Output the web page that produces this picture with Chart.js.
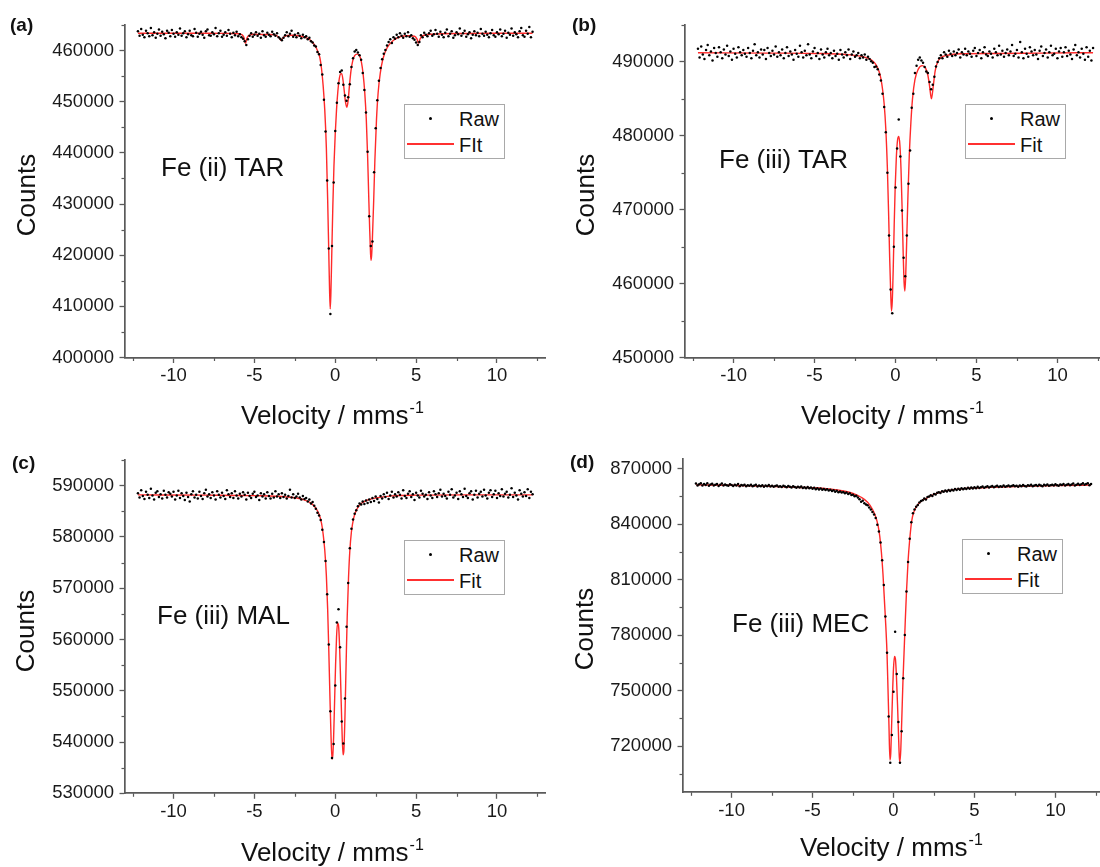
<!DOCTYPE html>
<html><head><meta charset="utf-8">
<script src="https://cdn.jsdelivr.net/npm/chart.js@4.4.1/dist/chart.umd.min.js"></script>
<style>
html,body{margin:0;padding:0;background:#fff;overflow:hidden;width:1100px;height:867px;}
body{position:relative;font-family:"Liberation Sans",Arial,sans-serif;color:#111;}
canvas{position:absolute;}
.t{position:absolute;white-space:nowrap;line-height:1;transform:translateY(-50%);}
.plabel{font-weight:bold;font-size:19px;}
.ann{font-size:26px;}
.xtitle{font-size:26px;}
.sup{position:relative;top:-11px;font-size:16px;margin-left:1px;}
.ytitle{position:absolute;white-space:nowrap;line-height:1;font-size:26px;transform:translate(-50%,-50%) rotate(-90deg);}
.legend{position:absolute;border:1.5px solid #a9a9a9;background:#fff;box-sizing:border-box;width:101px;height:55px;}
.ldot{position:absolute;width:3px;height:3px;border-radius:50%;background:#000;left:24px;top:12px;}
.lline{position:absolute;height:1.5px;background:#ff3030;left:2px;top:38px;width:47px;}
.ltxt{position:absolute;font-size:20px;line-height:1;left:54px;transform:translateY(-50%);}
</style>
</head><body>

<canvas id="ca" width="550" height="430" style="left:0px;top:0px"></canvas>
<canvas id="cb" width="560" height="430" style="left:550px;top:0px"></canvas>
<canvas id="cc" width="550" height="437" style="left:0px;top:430px"></canvas>
<canvas id="cd" width="560" height="437" style="left:550px;top:430px"></canvas>

<div class="t plabel" style="left:10px;top:24px">(a)</div>
<div class="t plabel" style="left:572px;top:24px">(b)</div>
<div class="t plabel" style="left:12px;top:462px">(c)</div>
<div class="t plabel" style="left:570px;top:461px">(d)</div>

<div class="t ann" style="left:161px;top:167px">Fe (ii) TAR</div>
<div class="t ann" style="left:719px;top:159px">Fe (iii) TAR</div>
<div class="t ann" style="left:157px;top:615px">Fe (iii) MAL</div>
<div class="t ann" style="left:732px;top:623px">Fe (iii) MEC</div>

<div class="ytitle" style="left:26px;top:195px">Counts</div>
<div class="ytitle" style="left:585px;top:195px">Counts</div>
<div class="ytitle" style="left:25px;top:631px">Counts</div>
<div class="ytitle" style="left:584px;top:629px">Counts</div>

<div class="t xtitle" style="left:241px;top:415px">Velocity / mms<span class="sup">-1</span></div>
<div class="t xtitle" style="left:801px;top:415px">Velocity / mms<span class="sup">-1</span></div>
<div class="t xtitle" style="left:241px;top:852px">Velocity / mms<span class="sup">-1</span></div>
<div class="t xtitle" style="left:800px;top:847px">Velocity / mms<span class="sup">-1</span></div>

<div class="legend" style="left:404px;top:104px"><div class="ldot"></div><div class="lline"></div><div class="ltxt" style="top:14px">Raw</div><div class="ltxt" style="top:40px">FIt</div></div>
<div class="legend" style="left:965px;top:104px"><div class="ldot"></div><div class="lline"></div><div class="ltxt" style="top:14px">Raw</div><div class="ltxt" style="top:40px">Fit</div></div>
<div class="legend" style="left:404px;top:540px"><div class="ldot"></div><div class="lline"></div><div class="ltxt" style="top:14px">Raw</div><div class="ltxt" style="top:40px">Fit</div></div>
<div class="legend" style="left:962px;top:539px"><div class="ldot"></div><div class="lline"></div><div class="ltxt" style="top:14px">Raw</div><div class="ltxt" style="top:40px">Fit</div></div>

<script>
// ---------- DATA ----------
const velocity = [
-12.2,-12.1,-12,-11.9,-11.8,-11.7,-11.6,-11.5,-11.4,-11.3,
-11.2,-11.1,-11,-10.9,-10.8,-10.7,-10.6,-10.5,-10.4,-10.3,
-10.2,-10.1,-10,-9.9,-9.8,-9.7,-9.6,-9.5,-9.4,-9.3,
-9.2,-9.1,-9,-8.9,-8.8,-8.7,-8.6,-8.5,-8.4,-8.3,
-8.2,-8.1,-8,-7.9,-7.8,-7.7,-7.6,-7.5,-7.4,-7.3,
-7.2,-7.1,-7,-6.9,-6.8,-6.7,-6.6,-6.5,-6.4,-6.3,
-6.2,-6.1,-6,-5.9,-5.8,-5.7,-5.6,-5.5,-5.4,-5.3,
-5.2,-5.1,-5,-4.9,-4.8,-4.7,-4.6,-4.5,-4.4,-4.3,
-4.2,-4.1,-4,-3.9,-3.8,-3.7,-3.6,-3.5,-3.4,-3.3,
-3.2,-3.1,-3,-2.9,-2.8,-2.7,-2.6,-2.5,-2.4,-2.3,
-2.2,-2.1,-2,-1.9,-1.8,-1.7,-1.6,-1.5,-1.4,-1.3,
-1.2,-1.1,-1,-0.9,-0.8,-0.7,-0.6,-0.5,-0.4,-0.3,
-0.2,-0.1,0,0.1,0.2,0.3,0.4,0.5,0.6,0.7,
0.8,0.9,1,1.1,1.2,1.3,1.4,1.5,1.6,1.7,
1.8,1.9,2,2.1,2.2,2.3,2.4,2.5,2.6,2.7,
2.8,2.9,3,3.1,3.2,3.3,3.4,3.5,3.6,3.7,
3.8,3.9,4,4.1,4.2,4.3,4.4,4.5,4.6,4.7,
4.8,4.9,5,5.1,5.2,5.3,5.4,5.5,5.6,5.7,
5.8,5.9,6,6.1,6.2,6.3,6.4,6.5,6.6,6.7,
6.8,6.9,7,7.1,7.2,7.3,7.4,7.5,7.6,7.7,
7.8,7.9,8,8.1,8.2,8.3,8.4,8.5,8.6,8.7,
8.8,8.9,9,9.1,9.2,9.3,9.4,9.5,9.6,9.7,
9.8,9.9,10,10.1,10.2,10.3,10.4,10.5,10.6,10.7,
10.8,10.9,11,11.1,11.2,11.3,11.4,11.5,11.6,11.7,
11.8,11.9,12,12.1,12.2];

const rawA = [
463800,462900,464200,463100,462600,463900,463400,462800,464400,463000,
463600,462500,463300,464100,462900,463700,463200,462400,463900,463500,
462800,464000,463300,462700,463600,463100,464300,462900,463400,463800,
462600,463200,463900,463000,462800,464200,463500,462700,463300,463700,
463100,462500,463800,464100,463000,462900,463600,463200,464400,462800,
463400,463900,462700,463100,463600,462900,464000,463300,462600,463500,
463000,463700,462800,463200,462600,462300,461800,461100,462200,462900,
463400,462700,463100,463600,462900,463300,462500,463800,463000,462700,
463500,463100,462800,463700,463200,462900,463400,462600,462300,462000,
462500,463000,463600,462800,463300,463900,462700,463100,462600,463400,
462900,462400,463100,462600,462800,462200,462500,461800,461600,461000,
460800,459700,459300,457200,455300,450400,444200,434600,421300,408500,
421800,434200,444300,449800,453600,455800,456100,453300,451200,450200,
450900,453400,456800,458500,459800,460100,459600,459100,458200,455600,
452300,447900,440200,427600,421800,422700,436200,444800,450300,454100,
456600,458300,459400,460100,461000,461700,462200,461500,462600,462300,
463100,462600,463400,462900,462500,463300,462800,463600,462700,463000,
462400,462100,461600,461100,461700,463000,462600,463500,463100,462800,
463400,463900,462900,463200,464000,463300,462700,463700,463100,462600,
463500,464100,462800,463300,463800,462500,463000,463600,463200,464300,
462900,463400,463900,462700,463200,463600,462400,463100,463800,463000,
463500,462800,464200,463300,462900,463700,463100,462600,463400,464000,
463000,462700,463600,463200,464100,462800,463300,463900,462500,463500,
463100,464300,462900,463600,463200,462600,463800,464400,463000,462700,
463900,463300,464600,462600,463700];

const rawB = [
491800,490600,492100,491000,490400,491600,492300,490900,491400,490200,
491900,491200,490700,492000,491300,490500,491700,491000,492200,490800,
491400,490300,491800,491100,490600,492000,491300,490900,491600,491100,
490700,491900,491200,490500,491500,492400,490900,491300,490600,491700,
491000,491600,490400,491900,491200,490800,491500,491000,492100,490700,
491300,490900,491700,490500,491200,492000,490800,491400,491000,490300,
491600,491100,490700,492200,491300,490600,491500,490900,492400,491000,
490500,491400,491900,490800,491200,490400,491700,491000,490600,491300,
491800,490900,491200,490500,491500,490800,491100,490300,491600,491000,
490600,491300,490900,491700,490400,491000,491400,490700,490900,491200,
490500,490900,490600,491000,490300,490700,490400,490100,489900,489300,
489400,489000,488300,487500,485700,483900,480500,475000,466500,459200,
456000,465000,473000,478300,482200,477200,469900,463500,461000,466500,
473500,478000,483800,485700,488500,489500,490300,490600,490200,489900,
489300,488700,488500,487300,486300,486900,488000,489400,490000,490500,
490900,490500,491300,491000,490700,491500,491100,490800,491400,490900,
491200,491700,490600,491300,491000,491800,490900,491400,491100,490700,
491500,491900,490800,491200,491600,490500,491300,492000,491000,490800,
491400,491100,490600,491800,491300,490900,492200,491000,491500,490700,
491200,491700,490900,491400,492300,490800,491100,491600,490600,492700,
491300,490500,491800,491100,490700,492000,491400,490900,491600,491000,
490400,491500,492100,490800,491200,491700,490600,491300,492200,490900,
491100,491800,490500,491400,491900,490700,491300,492000,490800,491500,
491000,490400,491700,492300,490900,491300,490600,491800,491100,490300,
492000,490700,491500,490200,491900];

const rawC = [
588500,587700,589100,588000,587400,588800,588200,587600,589400,588100,
587300,588600,588900,587800,588300,587500,589000,588200,587700,588700,
588400,587900,588800,587300,588100,589000,587600,588500,588000,587200,
588600,587800,586900,588300,588900,587700,588200,587500,588800,588000,
587400,588500,589200,587900,588300,587600,588700,588100,587300,588900,
588200,587700,588600,588000,587400,589100,588300,587800,588500,587600,
588900,588100,587500,588400,587900,588700,588200,587300,588600,588000,
587600,588400,588800,587800,588100,587200,588500,587900,588300,587500,
588700,588000,587500,588400,587700,588900,587900,588300,587600,588500,
587800,588200,587500,588000,589200,587700,588300,587600,587900,588400,
587700,587300,588000,587400,587600,586900,587300,586500,586800,586100,
585500,584700,584200,583300,581400,579000,575300,568800,559000,546000,
536900,539600,551000,563300,565900,558500,544000,539700,548500,562500,
571000,577800,581600,583400,584500,585200,586000,586500,586300,586900,
586400,587100,586600,587300,586800,587600,587000,587900,587400,586700,
588000,587500,588300,587800,588600,587400,588100,588800,587700,588300,
587900,588700,588200,587500,589100,588000,587600,588400,588900,587800,
588300,587200,588600,588100,587700,589000,588400,587900,588200,587400,
588700,588100,587600,588900,588300,587800,588500,589200,587900,588400,
588000,587500,588800,588200,589300,587700,588100,588600,587400,588900,
588300,587800,589400,588000,587600,588500,588900,587300,588200,589000,
587700,588400,588800,587900,589200,588100,587500,588600,589100,587800,
588300,589000,587600,588500,588000,589300,587900,588400,588800,587700,
588200,589500,587800,588600,588100,587300,589100,588400,587900,588700,
588000,589300,587600,588800,588300];

const rawD = [
861900,860800,861500,862000,860900,861600,861100,862100,860700,861400,
861800,860900,861300,861700,860600,861200,861900,860800,861400,861000,
860700,861500,861100,860600,861300,860900,861600,860500,861100,860800,
861200,860400,861000,860700,861300,860500,860900,861200,860300,860800,
860500,861000,860200,860800,860400,861100,860300,860700,860100,860600,
860900,860200,860500,860000,860700,860300,859900,860600,860100,859800,
860400,860000,859600,860200,859800,860300,859500,859900,859400,860000,
859300,859700,859100,859600,858800,859400,858700,859200,858600,858900,
858400,858800,858100,858600,857800,858300,857500,858000,857200,857600,
857000,857300,856600,857100,856200,856600,855700,855900,855000,855300,
854300,853400,852000,852600,851300,850600,850200,848900,847800,846500,
845200,843300,839600,836000,830000,820500,807000,790000,770500,736000,
711000,726000,749300,781800,759000,733000,711000,728000,756600,780000,
803500,819500,832000,841000,845900,847800,849400,850300,851600,852500,
852900,853800,853300,854600,854900,855600,855200,856300,856000,856900,
857200,856800,857700,857400,858100,857600,858400,857900,858600,858200,
858900,858400,859100,858600,859300,858800,859400,859000,859600,859100,
859700,859200,859900,859400,860100,859500,859900,860300,859600,860000,
860400,859800,860200,860600,859900,860300,860700,860000,860500,860200,
860800,860100,860500,860900,860300,860600,861000,860400,860700,860200,
860900,860500,861100,860600,860300,861000,860700,861200,860400,860800,
861100,860600,861300,860800,860500,861200,860900,861400,860700,861000,
861300,860800,861500,861000,860700,861400,861100,861700,860900,861200,
861600,861000,861400,861900,860900,861300,861800,861100,861500,862000,
861200,861700,862100,861000,861600];

const fitVelA = [-12.2,-10,-8,-6.5,-6,-5.8,-5.65,-5.55,-5.45,-5.3,-5,-4.5,-4,-3.6,-3.45,-3.35,-3.25,-3.1,-2.8,-2.5,-2,-1.6,-1.3,-1.1,-0.95,-0.85,-0.75,-0.65,-0.55,-0.47,-0.4,-0.35,-0.31,-0.27,-0.22,-0.15,-0.08,0,0.08,0.16,0.24,0.32,0.4,0.48,0.56,0.63,0.72,0.8,0.88,0.97,1.08,1.2,1.35,1.5,1.62,1.72,1.82,1.92,2,2.07,2.13,2.18,2.21,2.25,2.3,2.37,2.45,2.55,2.65,2.78,2.95,3.2,3.6,4,4.5,4.9,5.05,5.15,5.25,5.4,6,8,10,12.2];
const fitCountsA = [463400,463400,463400,463350,463300,463150,462600,461400,462500,463000,463200,463150,463150,462900,462400,462000,462400,462800,463000,463000,462700,462200,461200,460000,458600,456500,453200,448500,441000,431000,420500,413000,409500,412500,419500,429500,437500,443800,448500,452000,454300,455400,455500,454200,452000,450000,448900,450300,453200,456000,458000,459000,459300,459000,457700,455500,452000,446500,439500,431500,425000,420500,419000,420000,423500,430000,438500,446500,451700,455500,458400,460500,462000,462700,462900,462800,462300,461400,462300,462900,463200,463350,463400,463400];

const fitVelB = [-12.2,-8,-5,-3,-2,-1.5,-1.2,-1,-0.9,-0.8,-0.7,-0.6,-0.5,-0.42,-0.36,-0.3,-0.25,-0.2,-0.14,-0.08,-0.02,0.05,0.12,0.2,0.27,0.34,0.41,0.47,0.53,0.58,0.63,0.7,0.77,0.85,0.95,1.05,1.2,1.4,1.65,1.85,2,2.1,2.22,2.32,2.45,2.6,2.8,3.2,4,6,9,12.2];
const fitCountsB = [491250,491200,491150,491000,490700,490300,489600,488600,487700,486300,484300,481000,475500,469000,463500,459000,456300,457600,462000,468000,473000,477000,479300,479900,478800,475500,470000,464500,460200,459000,461000,466500,472000,477300,481800,485000,487600,489000,489500,489200,488200,486800,485000,486500,488800,490000,490600,490900,491100,491150,491200,491250];

const fitVelC = [-12.2,-8,-5,-3,-2,-1.5,-1.2,-1,-0.85,-0.75,-0.65,-0.55,-0.47,-0.4,-0.33,-0.26,-0.2,-0.15,-0.1,-0.04,0.02,0.08,0.14,0.2,0.27,0.34,0.41,0.48,0.53,0.6,0.67,0.74,0.82,0.9,1,1.15,1.35,1.6,2,2.5,3.5,5,8,12.2];
const fitCountsC = [588200,588150,588050,587800,587300,586600,585600,584400,582700,580600,577500,572500,566000,558000,549000,541000,536700,537500,541000,548000,555000,560500,563200,562800,558500,551000,543000,537500,538200,545000,555000,564500,572000,577200,581000,583800,585500,586500,587200,587600,588000,588150,588200,588200];

const fitVelD = [-12.2,-10,-8,-6,-4,-3,-2.5,-2,-1.6,-1.3,-1.1,-0.95,-0.85,-0.75,-0.65,-0.55,-0.47,-0.4,-0.34,-0.28,-0.22,-0.17,-0.12,-0.06,0,0.06,0.12,0.18,0.25,0.31,0.36,0.4,0.45,0.51,0.58,0.65,0.72,0.8,0.9,1,1.12,1.3,1.6,2,2.5,3,4,6,8,10,12.2];
const fitCountsD = [861200,861000,860500,859900,859000,857700,856500,854500,851800,848000,844000,839000,833500,825000,813000,797000,784000,770000,751000,731000,712500,716000,730000,748000,762000,768500,767000,758000,742000,726000,714000,711500,718000,734000,754000,770000,786000,803000,820000,831500,841500,847500,851500,853800,856000,857500,858900,859800,860400,860800,861100];

const xTickValues = [-10,-5,0,5,10];
const xMinorValues = [-12.5,-7.5,-2.5,2.5,7.5,12.5];
const yTicksA = [400000,410000,420000,430000,440000,450000,460000];
const yMinorA = [405000,415000,425000,435000,445000,455000,465000];
const yTicksB = [450000,460000,470000,480000,490000];
const yMinorB = [455000,465000,475000,485000,495000];
const yTicksC = [530000,540000,550000,560000,570000,580000,590000];
const yMinorC = [535000,545000,555000,565000,575000,585000,595000];
const yTicksD = [720000,750000,780000,810000,840000,870000];
const yMinorD = [705000,735000,765000,795000,825000,855000];

// ---------- DRAWING ----------
const AXIS = '#5a5a5a';
const FONT = '"Liberation Sans", Arial, sans-serif';

const minorTicks = {
  id: 'minorTicks',
  afterDraw(chart, args, opts) {
    const ctx = chart.ctx, xs = chart.scales.x, ys = chart.scales.y, ca = chart.chartArea;
    ctx.save();
    ctx.strokeStyle = AXIS; ctx.lineWidth = 1.2;
    opts.x.forEach(v => { const p = Math.round(xs.getPixelForValue(v)) + 0.5;
      ctx.beginPath(); ctx.moveTo(p, ca.bottom); ctx.lineTo(p, ca.bottom + 3.5); ctx.stroke(); });
    opts.y.forEach(v => { const p = Math.round(ys.getPixelForValue(v)) + 0.5;
      ctx.beginPath(); ctx.moveTo(ca.left, p); ctx.lineTo(ca.left - 3.5, p); ctx.stroke(); });
    ctx.restore();
  }
};

function panel(p) {
  const raw = velocity.map((v, i) => ({x: v, y: p.raw[i]}));
  const fit = p.fitX.map((v, i) => ({x: v, y: p.fitY[i]}));
  new Chart(document.getElementById(p.id), {
    type: 'scatter',
    data: { datasets: [
      { label: 'Raw', data: raw, pointRadius: 1.25, pointBackgroundColor: '#000', pointBorderWidth: 0, showLine: false, order: 0 },
      { label: 'Fit', data: fit, showLine: true, pointRadius: 0, borderColor: '#ff2a2a', borderWidth: 1.4, cubicInterpolationMode: 'monotone', order: 1 }
    ]},
    options: {
      responsive: false, animation: false, events: [], devicePixelRatio: 1,
      layout: { padding: p.pad, autoPadding: false },
      plugins: { legend: {display: false}, tooltip: {enabled: false}, minorTicks: {x: xMinorValues, y: p.yMinor} },
      scales: {
        x: { type: 'linear', min: -13, max: 13,
          afterBuildTicks: s => { s.ticks = xTickValues.map(v => ({value: v})); },
          afterFit: s => { s.height = 40; },
          ticks: { font: {family: FONT, size: 18.5}, color: '#1a1a1a', padding: 2, maxRotation: 0, autoSkip: false, callback: v => String(v) },
          grid: { display: true, drawOnChartArea: false, drawTicks: true, tickLength: 5.5, tickColor: AXIS, tickWidth: 1.3 },
          border: { display: true, color: AXIS, width: 1.7 } },
        y: { type: 'linear', min: p.yMin, max: p.yMax,
          afterBuildTicks: s => { s.ticks = p.yTicks.map(v => ({value: v})); },
          afterFit: s => { s.width = p.yW; },
          ticks: { font: {family: FONT, size: 18.5}, color: '#1a1a1a', padding: 5.5, autoSkip: false, callback: v => String(v) },
          grid: { display: true, drawOnChartArea: false, drawTicks: true, tickLength: 5.5, tickColor: AXIS, tickWidth: 1.3 },
          border: { display: true, color: AXIS, width: 1.7 } }
      }
    },
    plugins: [minorTicks]
  });
}

panel({id:'ca', pad:{left:0, top:25, right:4.5, bottom:32.5}, yW:125, yMin:400000, yMax:465000, yTicks:yTicksA, yMinor:yMinorA, raw:rawA, fitX:fitVelA, fitY:fitCountsA});
panel({id:'cb', pad:{left:0, top:25, right:4, bottom:32.5}, yW:135, yMin:450000, yMax:495000, yTicks:yTicksB, yMinor:yMinorB, raw:rawB, fitX:fitVelB, fitY:fitCountsB});
panel({id:'cc', pad:{left:0, top:30, right:4.5, bottom:33.7}, yW:125, yMin:530000, yMax:595000, yTicks:yTicksC, yMinor:yMinorC, raw:rawC, fitX:fitVelC, fitY:fitCountsC});
panel({id:'cd', pad:{left:0, top:29.3, right:6, bottom:34.7}, yW:133, yMin:695000, yMax:875000, yTicks:yTicksD, yMinor:yMinorD, raw:rawD, fitX:fitVelD, fitY:fitCountsD});
</script>
</body></html>
